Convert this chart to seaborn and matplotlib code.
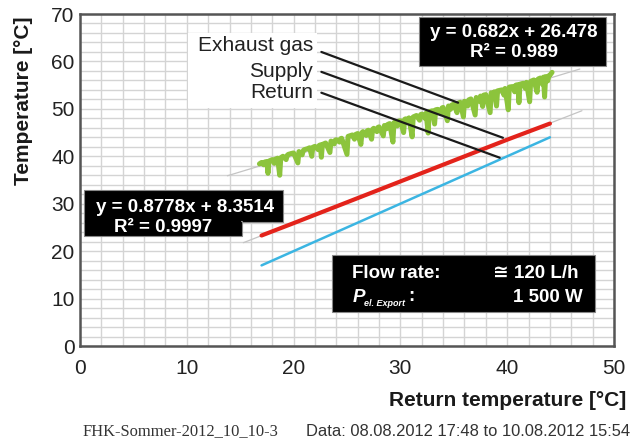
import numpy as np
import pandas as pd
import matplotlib
matplotlib.use("Agg")
import matplotlib.pyplot as plt
from matplotlib.patches import Rectangle
import seaborn as sns

# ---- measured data -------------------------------------------------------
# Return / supply water temperatures (straight-line behaviour)
return_temp = [17.0, 20.0, 25.0, 30.0, 35.0, 40.0, 44.0]
supply_temp = [23.3, 25.9, 30.3, 34.7, 39.1, 43.5, 46.9]

# Exhaust gas temperature versus return temperature (with short dips)
exhaust_x = [16.8, 17.0, 17.2, 17.3, 17.5, 17.6, 17.7, 18.0, 18.2, 18.3,
             18.5, 18.7, 18.8, 19.0, 19.3, 19.4, 19.5, 19.8, 20.0, 20.4,
             20.5, 20.8, 20.9, 21.0, 21.3, 21.5, 21.7, 21.8, 22.0, 22.3,
             22.4, 22.5, 22.6, 22.7, 23.0, 23.4, 23.5, 23.8, 23.9, 24.0,
             24.3, 24.4, 24.5, 25.0, 25.1, 25.5, 25.7, 25.8, 26.0, 26.3,
             26.4, 26.5, 26.8, 26.9, 27.0, 27.3, 27.4, 27.5, 27.8, 27.9,
             28.0, 28.4, 28.5, 28.7, 28.8, 29.0, 29.3, 29.4, 29.5, 29.7,
             29.8, 30.0, 30.3, 30.4, 30.5, 30.7, 30.8, 31.1, 31.2, 31.5,
             31.8, 31.9, 32.0, 32.3, 32.4, 32.6, 32.7, 33.0, 33.2, 33.3,
             33.5, 33.8, 33.9, 34.0, 34.4, 34.5, 34.7, 34.8, 35.0, 35.3,
             35.4, 35.6, 35.9, 36.0, 36.3, 36.4, 36.6, 37.0, 37.1, 37.4,
             37.5, 37.7, 37.8, 38.0, 38.4, 38.5, 38.7, 38.8, 39.0, 39.1,
             39.5, 39.7, 39.8, 40.1, 40.2, 40.5, 40.7, 40.8, 41.0, 41.1,
             41.2, 41.5, 41.7, 41.8, 42.1, 42.2, 42.5, 42.8, 42.9, 43.1,
             43.3, 43.4, 43.5, 43.6, 43.8, 43.9, 44.0, 44.1, 44.2]
exhaust_y = [38.4, 38.7, 38.2, 38.8, 38.9, 36.4, 39.0, 39.3, 38.5, 39.4,
             39.6, 36.0, 39.7, 40.0, 39.3, 40.2, 40.4, 40.6, 40.7, 38.6,
             41.0, 40.3, 41.2, 41.4, 41.6, 41.8, 40.0, 41.9, 42.1, 41.4,
             42.3, 42.4, 39.8, 42.5, 42.8, 40.8, 43.2, 42.6, 43.4, 43.5,
             43.0, 43.7, 43.8, 40.4, 44.2, 44.5, 43.6, 44.6, 44.8, 42.5,
             45.0, 45.2, 44.4, 45.4, 45.5, 43.6, 45.7, 45.9, 45.2, 46.1,
             46.2, 44.3, 46.5, 45.8, 46.7, 46.9, 43.0, 47.1, 47.2, 46.4,
             47.4, 47.5, 45.0, 47.8, 47.9, 47.1, 48.1, 44.1, 48.3, 48.6,
             47.6, 48.8, 48.9, 48.0, 49.1, 44.9, 49.4, 49.6, 46.8, 49.8,
             49.9, 49.0, 50.2, 50.3, 47.5, 50.6, 49.9, 50.8, 51.0, 49.2,
             51.2, 51.4, 48.3, 51.6, 50.6, 51.9, 52.1, 48.7, 52.4, 51.6,
             52.7, 50.5, 52.9, 53.0, 49.2, 53.4, 52.4, 53.6, 50.6, 53.8,
             54.0, 52.9, 54.3, 49.8, 54.6, 54.7, 53.6, 55.0, 55.1, 51.3,
             55.2, 55.4, 54.3, 55.6, 51.5, 55.8, 56.1, 53.5, 56.3, 56.5,
             55.2, 56.7, 52.5, 56.8, 55.9, 57.0, 57.1, 57.4, 57.7]

# Linear fits shown in the annotation boxes
exhaust_fit = (0.682, 26.478, 0.989)
supply_fit = (0.8778, 8.3514, 0.9997)
exhaust_trend_range = [13.8, 46.8]
supply_trend_range = [15.3, 47.0]

x_ticks = [0, 10, 20, 30, 40, 50]
y_ticks = [0, 10, 20, 30, 40, 50, 60, 70]

# ---- style ---------------------------------------------------------------
sns.set_theme(style="white")
plt.rcParams["font.family"] = ["Liberation Sans", "DejaVu Sans"]

GREEN = "#8cc43c"
RED = "#e3231b"
BLUE = "#3bb5e2"
TREND = "#c4c4c4"

fig = plt.figure(figsize=(6.41, 4.41), dpi=100)
ax = fig.add_axes([80 / 641, 1 - 346 / 441, 534 / 641, 332 / 441])

ax.set_xlim(0, 50)
ax.set_ylim(0, 70)
ax.set_xticks(np.arange(0, 51, 2), minor=True)
ax.set_yticks(np.arange(0, 71, 2), minor=True)
ax.set_xticks(x_ticks)
ax.set_yticks(y_ticks)
ax.grid(True, which="both", color="#d4d4d4", lw=1.0)
ax.set_axisbelow(True)
ax.tick_params(axis="both", which="major", direction="in", length=6,
               width=1.2, color="#333333", labelsize=15, labelcolor="#222222")
ax.tick_params(axis="x", which="major", pad=9)
ax.tick_params(axis="y", which="major", pad=4)
ax.tick_params(which="minor", length=0)
for sp in ax.spines.values():
    sp.set_color("#555555")
    sp.set_linewidth(1.8)

# ---- trend lines ---------------------------------------------------------
tx = np.array(exhaust_trend_range)
ax.plot(tx, exhaust_fit[0] * tx + exhaust_fit[1], color=TREND, lw=0.9, zorder=2)
sx = np.array(supply_trend_range)
ax.plot(sx, supply_fit[0] * sx + supply_fit[1], color=TREND, lw=0.9, zorder=2)

# ---- measured series -----------------------------------------------------
df_ret = pd.DataFrame({"ret": return_temp, "sup": supply_temp})
df_exh = pd.DataFrame({"ret": exhaust_x, "exh": exhaust_y})

sns.lineplot(data=df_exh, x="ret", y="exh", ax=ax, color=GREEN, lw=3.6,
             estimator=None, sort=False, zorder=3)
sns.lineplot(data=df_ret, x="ret", y="sup", ax=ax, color=RED, lw=3.0,
             estimator=None, sort=False, zorder=3)
sns.lineplot(data=df_ret, x="ret", y="ret", ax=ax, color=BLUE, lw=1.8,
             estimator=None, sort=False, zorder=3)
ax.set_xlabel("")
ax.set_ylabel("")

# ---- series labels with leader lines -------------------------------------
ax.add_patch(Rectangle((10.1, 50.2), 12.1, 15.7, facecolor="white",
                       edgecolor="none", zorder=1.5))
lab_kw = dict(ha="right", va="center", fontsize=15, color="#222222", zorder=6)
ax.text(21.8, 63.3, "Exhaust gas", **lab_kw)
ax.text(21.8, 57.9, "Supply", **lab_kw)
ax.text(21.8, 53.4, "Return", **lab_kw)
ax.plot([22.6, 35.4], [62.0, 51.3], color="#1a1a1a", lw=1.6, zorder=5)
ax.plot([22.6, 39.6], [57.8, 43.9], color="#1a1a1a", lw=1.6, zorder=5)
ax.plot([22.6, 39.3], [53.4, 39.7], color="#1a1a1a", lw=1.6, zorder=5)

# ---- fit annotation boxes ------------------------------------------------
box_kw = dict(facecolor="black", edgecolor="#888888", lw=0.8, zorder=7)
txt_kw = dict(ha="center", va="center", fontsize=13.5, color="white",
              fontweight="bold", zorder=8)

ax.add_patch(Rectangle((31.7, 59.1), 17.55, 10.3, **box_kw))
ax.text(40.6, 66.0, f"y = {exhaust_fit[0]}x + {exhaust_fit[1]}", **txt_kw)
ax.text(40.6, 61.8, f"R² = {exhaust_fit[2]}", **txt_kw)

ax.add_patch(Rectangle((0.37, 26.2), 18.6, 6.7, **box_kw))
ax.add_patch(Rectangle((0.37, 23.2), 14.8, 3.2, **box_kw))
ax.add_patch(Rectangle((0.45, 26.0), 14.6, 0.6, facecolor="black",
                       edgecolor="none", zorder=7.5))
ax.text(9.85, 29.1, f"y = {supply_fit[0]}x + {supply_fit[1]}", **txt_kw)
ax.text(7.8, 25.0, f"R² = {supply_fit[2]}", **txt_kw)

# ---- operating conditions box --------------------------------------------
ax.add_patch(Rectangle((23.6, 7.2), 24.6, 12.0, **box_kw))
cond_kw = dict(va="center", fontsize=13.5, color="white", fontweight="bold",
               zorder=8)
ax.text(25.5, 15.2, "Flow rate:", ha="left", **cond_kw)
ax.text(46.7, 15.2, "≅ 120 L/h", ha="right",
        family=["Liberation Sans", "DejaVu Sans"], **cond_kw)
ax.text(25.5, 10.3, "P", ha="left", style="italic", **cond_kw)
ax.text(26.6, 9.0, "el. Export", ha="left", va="center", fontsize=6.5,
        color="white", fontweight="bold", style="italic", zorder=8)
ax.text(30.7, 10.5, ":", ha="left", **cond_kw)
ax.text(47.1, 10.3, "1 500 W", ha="right", **cond_kw)

# ---- axis titles and footer ----------------------------------------------
fig.text(24 / 641, 1 - 101 / 441, "Temperature [°C]", rotation=90,
         ha="center", va="center", fontsize=15, fontweight="bold",
         color="#1a1a1a")
fig.text(626 / 641, 1 - 400 / 441, "Return temperature [°C]", ha="right",
         va="center", fontsize=15, fontweight="bold", color="#1a1a1a")
fig.text(83 / 641, 1 - 431 / 441, "FHK-Sommer-2012_10_10-3", ha="left",
         va="center", fontsize=11.9, family="Liberation Serif",
         color="#333333")
fig.text(306 / 641, 1 - 431 / 441,
         "Data: 08.08.2012 17:48 to 10.08.2012 15:54", ha="left",
         va="center", fontsize=11.9, color="#333333")

fig.savefig("out.png", dpi=100)
